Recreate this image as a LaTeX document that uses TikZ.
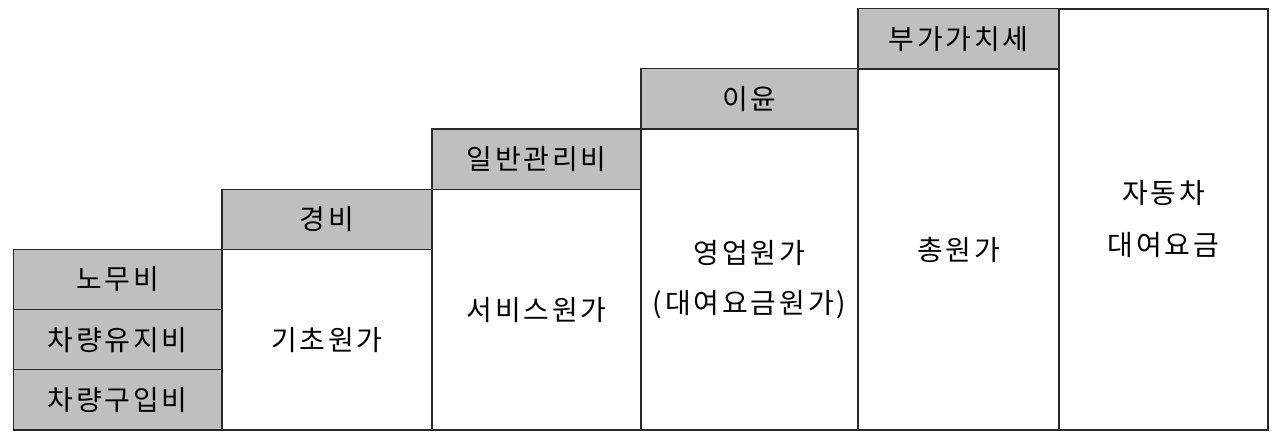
\documentclass[tikz,border=0pt]{standalone}
\usepackage{fontspec}
\usepackage{tikz}
\usetikzlibrary{positioning}
\newfontfamily\krfont[LetterSpace=10]{Noto Sans CJK KR}
\definecolor{costgray}{RGB}{191,191,191}
\definecolor{rulegray}{RGB}{40,40,40}

\begin{document}
\begin{tikzpicture}[x=1pt,y=1pt,node distance=0pt,font=\krfont\fontsize{28}{32}\selectfont]
 % styles
 \tikzstyle{cost} = [rectangle,draw=rulegray,fill=costgray,line width=1.3pt,minimum height=60.2pt,inner sep=0pt,outer sep=0pt];
 \tikzstyle{price} = [rectangle,draw=rulegray,fill=white,line width=1.3pt,inner sep=0pt,outer sep=0pt,align=center,anchor=south west];

 \useasboundingbox (0,0) rectangle (1280,439);

 % cost items
 \node[cost,minimum width=208.5pt,anchor=south west] (buy) at (13.5,9) {차량구입비};
 \node[cost,minimum width=208.5pt,above=of buy] (keep) {차량유지비};
 \node[cost,minimum width=208.5pt,above=of keep] (labor) {노무비};

 % steps
 \node[price,minimum width=210pt,minimum height=180.6pt] (base) at (buy.south east) {기초원가};
 \node[cost,minimum width=210pt,above=of base] (expense) {경비};
 \node[price,minimum width=209pt,minimum height=240.8pt] (service) at (base.south east) {서비스원가};
 \node[cost,minimum width=209pt,above=of service] (admin) {일반관리비};
 \node[price,minimum width=217pt,minimum height=301pt] (business) at (service.south east) {영업원가\\[18pt](대여요금원가)};
 \node[cost,minimum width=217pt,above=of business] (profit) {이윤};
 \node[price,minimum width=201pt,minimum height=361pt] (totalcost) at (business.south east) {총원가};
 \node[cost,minimum width=201pt,above=of totalcost] (vat) {부가가치세};
 \node[price,minimum width=209pt,minimum height=421pt] (fare) at (totalcost.south east) {자동차\\[20pt]대여요금};
\end{tikzpicture}
\end{document}
